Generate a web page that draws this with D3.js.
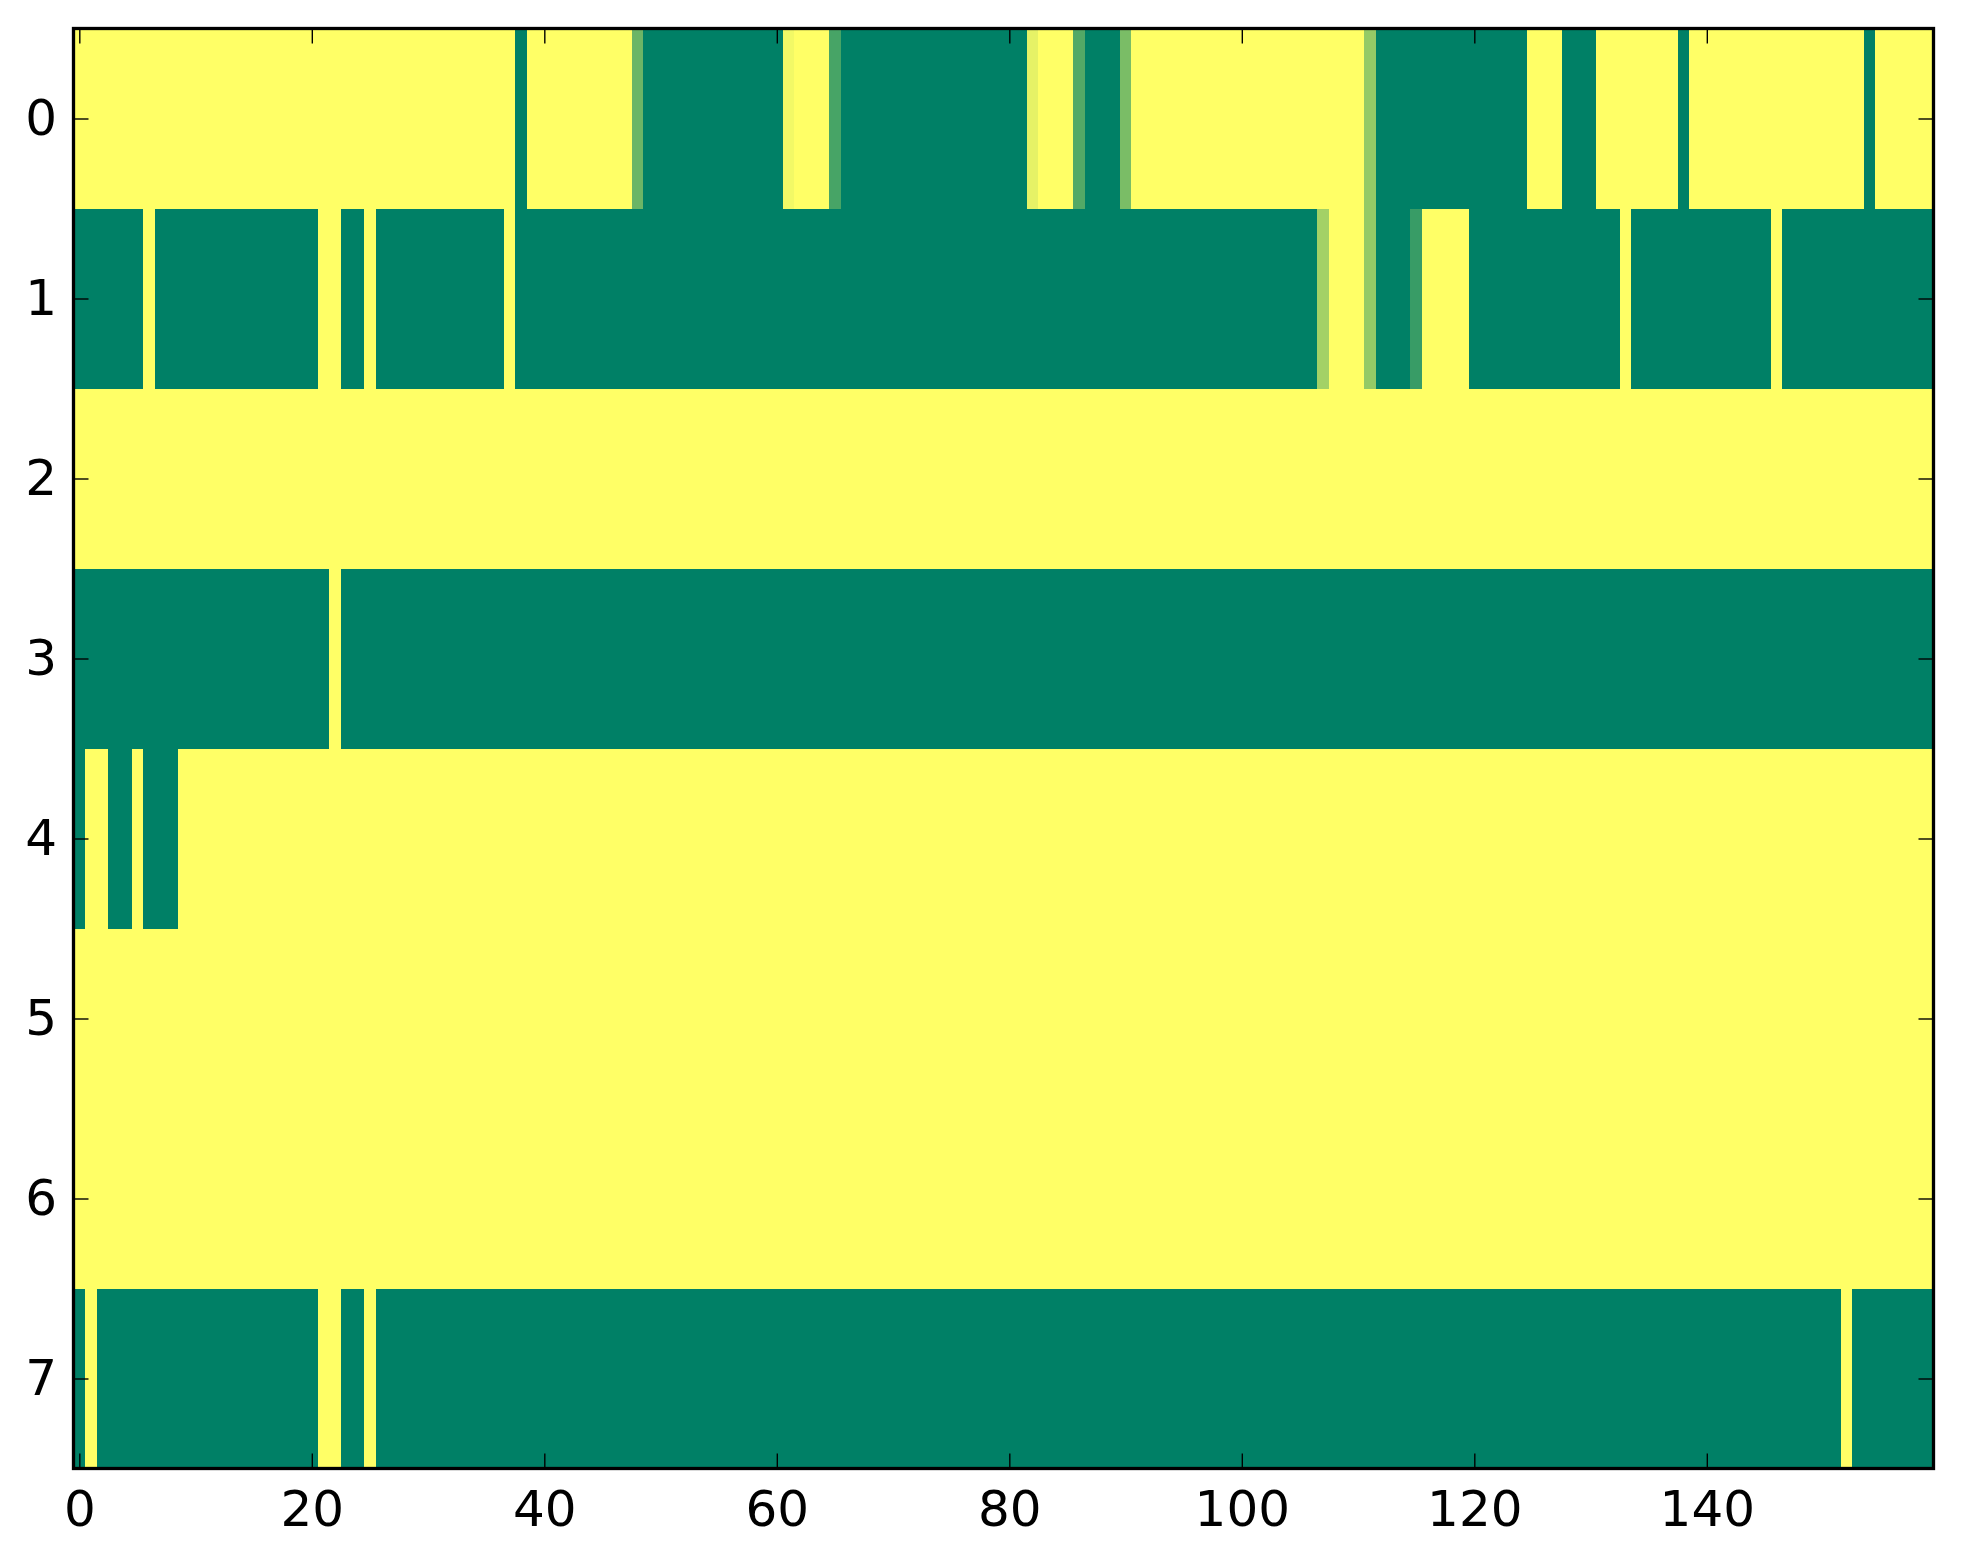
<!DOCTYPE html>
<html>
<head>
<meta charset="utf-8">
<script src="https://cdn.jsdelivr.net/npm/d3@7"></script>
<style>
  html, body { margin: 0; padding: 0; background: #fff; }
  svg { display: block; }
  .tick text { font-family: "DejaVu Sans", sans-serif; font-size: 50px; fill: #000; }
</style>
</head>
<body>
<svg id="chart" width="1963" height="1564"></svg>
<script>
/************************* Data *************************/
// one array per image row, 160 columns each (0 = green, 1 = yellow)
const row0 = [
  1,1,1,1,1,1,1,1,1,1,1,1,1,1,1,1,1,1,1,1,
  1,1,1,1,1,1,1,1,1,1,1,1,1,1,1,1,1,1,0,1,
  1,1,1,1,1,1,1,1,.42,0,0,0,0,0,0,0,0,0,0,0,
  0,.95,1,1,1,.28,0,0,0,0,0,0,0,0,0,0,0,0,0,0,
  0,0,.9,1,1,1,.32,0,0,0,.48,1,1,1,1,1,1,1,1,1,
  1,1,1,1,1,1,1,1,1,1,1,.58,0,0,0,0,0,0,0,0,
  0,0,0,0,0,1,1,1,0,0,0,1,1,1,1,1,1,1,0,1,
  1,1,1,1,1,1,1,1,1,1,1,1,1,1,0,1,1,1,1,1
];
const row1 = [
  0,0,0,0,0,0,1,0,0,0,0,0,0,0,0,0,0,0,0,0,
  0,1,1,0,0,1,0,0,0,0,0,0,0,0,0,0,0,1,0,0,
  0,0,0,0,0,0,0,0,0,0,0,0,0,0,0,0,0,0,0,0,
  0,0,0,0,0,0,0,0,0,0,0,0,0,0,0,0,0,0,0,0,
  0,0,0,0,0,0,0,0,0,0,0,0,0,0,0,0,0,0,0,0,
  0,0,0,0,0,0,0,.64,1,1,1,.58,0,0,0,.22,1,1,1,1,
  0,0,0,0,0,0,0,0,0,0,0,0,0,1,0,0,0,0,0,0,
  0,0,0,0,0,0,1,0,0,0,0,0,0,0,0,0,0,0,0,0
];
const row2 = [
  1,1,1,1,1,1,1,1,1,1,1,1,1,1,1,1,1,1,1,1,
  1,1,1,1,1,1,1,1,1,1,1,1,1,1,1,1,1,1,1,1,
  1,1,1,1,1,1,1,1,1,1,1,1,1,1,1,1,1,1,1,1,
  1,1,1,1,1,1,1,1,1,1,1,1,1,1,1,1,1,1,1,1,
  1,1,1,1,1,1,1,1,1,1,1,1,1,1,1,1,1,1,1,1,
  1,1,1,1,1,1,1,1,1,1,1,1,1,1,1,1,1,1,1,1,
  1,1,1,1,1,1,1,1,1,1,1,1,1,1,1,1,1,1,1,1,
  1,1,1,1,1,1,1,1,1,1,1,1,1,1,1,1,1,1,1,1
];
const row3 = [
  0,0,0,0,0,0,0,0,0,0,0,0,0,0,0,0,0,0,0,0,
  0,0,1,0,0,0,0,0,0,0,0,0,0,0,0,0,0,0,0,0,
  0,0,0,0,0,0,0,0,0,0,0,0,0,0,0,0,0,0,0,0,
  0,0,0,0,0,0,0,0,0,0,0,0,0,0,0,0,0,0,0,0,
  0,0,0,0,0,0,0,0,0,0,0,0,0,0,0,0,0,0,0,0,
  0,0,0,0,0,0,0,0,0,0,0,0,0,0,0,0,0,0,0,0,
  0,0,0,0,0,0,0,0,0,0,0,0,0,0,0,0,0,0,0,0,
  0,0,0,0,0,0,0,0,0,0,0,0,0,0,0,0,0,0,0,0
];
const row4 = [
  0,1,1,0,0,1,0,0,0,1,1,1,1,1,1,1,1,1,1,1,
  1,1,1,1,1,1,1,1,1,1,1,1,1,1,1,1,1,1,1,1,
  1,1,1,1,1,1,1,1,1,1,1,1,1,1,1,1,1,1,1,1,
  1,1,1,1,1,1,1,1,1,1,1,1,1,1,1,1,1,1,1,1,
  1,1,1,1,1,1,1,1,1,1,1,1,1,1,1,1,1,1,1,1,
  1,1,1,1,1,1,1,1,1,1,1,1,1,1,1,1,1,1,1,1,
  1,1,1,1,1,1,1,1,1,1,1,1,1,1,1,1,1,1,1,1,
  1,1,1,1,1,1,1,1,1,1,1,1,1,1,1,1,1,1,1,1
];
const row5 = [
  1,1,1,1,1,1,1,1,1,1,1,1,1,1,1,1,1,1,1,1,
  1,1,1,1,1,1,1,1,1,1,1,1,1,1,1,1,1,1,1,1,
  1,1,1,1,1,1,1,1,1,1,1,1,1,1,1,1,1,1,1,1,
  1,1,1,1,1,1,1,1,1,1,1,1,1,1,1,1,1,1,1,1,
  1,1,1,1,1,1,1,1,1,1,1,1,1,1,1,1,1,1,1,1,
  1,1,1,1,1,1,1,1,1,1,1,1,1,1,1,1,1,1,1,1,
  1,1,1,1,1,1,1,1,1,1,1,1,1,1,1,1,1,1,1,1,
  1,1,1,1,1,1,1,1,1,1,1,1,1,1,1,1,1,1,1,1
];
const row6 = [
  1,1,1,1,1,1,1,1,1,1,1,1,1,1,1,1,1,1,1,1,
  1,1,1,1,1,1,1,1,1,1,1,1,1,1,1,1,1,1,1,1,
  1,1,1,1,1,1,1,1,1,1,1,1,1,1,1,1,1,1,1,1,
  1,1,1,1,1,1,1,1,1,1,1,1,1,1,1,1,1,1,1,1,
  1,1,1,1,1,1,1,1,1,1,1,1,1,1,1,1,1,1,1,1,
  1,1,1,1,1,1,1,1,1,1,1,1,1,1,1,1,1,1,1,1,
  1,1,1,1,1,1,1,1,1,1,1,1,1,1,1,1,1,1,1,1,
  1,1,1,1,1,1,1,1,1,1,1,1,1,1,1,1,1,1,1,1
];
const row7 = [
  0,1,0,0,0,0,0,0,0,0,0,0,0,0,0,0,0,0,0,0,
  0,1,1,0,0,1,0,0,0,0,0,0,0,0,0,0,0,0,0,0,
  0,0,0,0,0,0,0,0,0,0,0,0,0,0,0,0,0,0,0,0,
  0,0,0,0,0,0,0,0,0,0,0,0,0,0,0,0,0,0,0,0,
  0,0,0,0,0,0,0,0,0,0,0,0,0,0,0,0,0,0,0,0,
  0,0,0,0,0,0,0,0,0,0,0,0,0,0,0,0,0,0,0,0,
  0,0,0,0,0,0,0,0,0,0,0,0,0,0,0,0,0,0,0,0,
  0,0,0,0,0,0,0,0,0,0,0,0,1,0,0,0,0,0,0,0
];
const rows = [row0, row1, row2, row3, row4, row5, row6, row7];

const xTicks = [0, 20, 40, 60, 80, 100, 120, 140];
const yTicks = [0, 1, 2, 3, 4, 5, 6, 7];

/************************* Layout *************************/
const LEFT = 73.5, RIGHT = 1933.5, TOP = 28.5, BOTTOM = 1468.5;
const TICK_LEN = 15;

const svg = d3.select("#chart");

const x = d3.scaleLinear().domain([-0.5, 159.5]).range([LEFT, RIGHT]);
const y = d3.scaleLinear().domain([-0.5, 7.5]).range([TOP, BOTTOM]);

// matplotlib "summer": r = v, g = .5 + .5v, b = .4
const color = d3.scaleLinear().domain([0, 1]).range(["#008066", "#ffff66"]);

/************************* Cells *************************/
const cells = [];
rows.forEach((r, i) => r.forEach((v, j) => cells.push({i, j, v})));

svg.append("g")
  .attr("shape-rendering", "crispEdges")
  .selectAll("rect")
  .data(cells)
  .join("rect")
    .attr("x", d => x(d.j - 0.5))
    .attr("y", d => y(d.i - 0.5))
    .attr("width", d => x(d.j + 0.5) - x(d.j - 0.5) + 0.5)
    .attr("height", d => y(d.i + 0.5) - y(d.i - 0.5) + 0.5)
    .attr("fill", d => color(d.v));

/************************* Axes *************************/
function styleAxis(g) {
  g.select(".domain").remove();
  g.selectAll(".tick line").attr("stroke", "#000").attr("stroke-width", 1.4);
}

svg.append("g")
  .attr("transform", `translate(0,${BOTTOM})`)
  .call(d3.axisBottom(x).tickValues(xTicks).tickSize(-TICK_LEN).tickPadding(21.5))
  .call(styleAxis);

svg.append("g")
  .attr("transform", `translate(0,${TOP})`)
  .call(d3.axisTop(x).tickValues(xTicks).tickSize(-TICK_LEN).tickFormat(""))
  .call(styleAxis);

svg.append("g")
  .attr("transform", `translate(${LEFT},0)`)
  .call(d3.axisLeft(y).tickValues(yTicks).tickSize(-TICK_LEN).tickPadding(16.5))
  .call(styleAxis);

svg.append("g")
  .attr("transform", `translate(${RIGHT},0)`)
  .call(d3.axisRight(y).tickValues(yTicks).tickSize(-TICK_LEN).tickFormat(""))
  .call(styleAxis);

svg.selectAll(".tick text").attr("font-family", null).attr("font-size", null);

// frame
svg.append("rect")
  .attr("x", LEFT)
  .attr("y", TOP)
  .attr("width", RIGHT - LEFT)
  .attr("height", BOTTOM - TOP)
  .attr("fill", "none")
  .attr("stroke", "#000")
  .attr("stroke-width", 3.3);
</script>
</body>
</html>
